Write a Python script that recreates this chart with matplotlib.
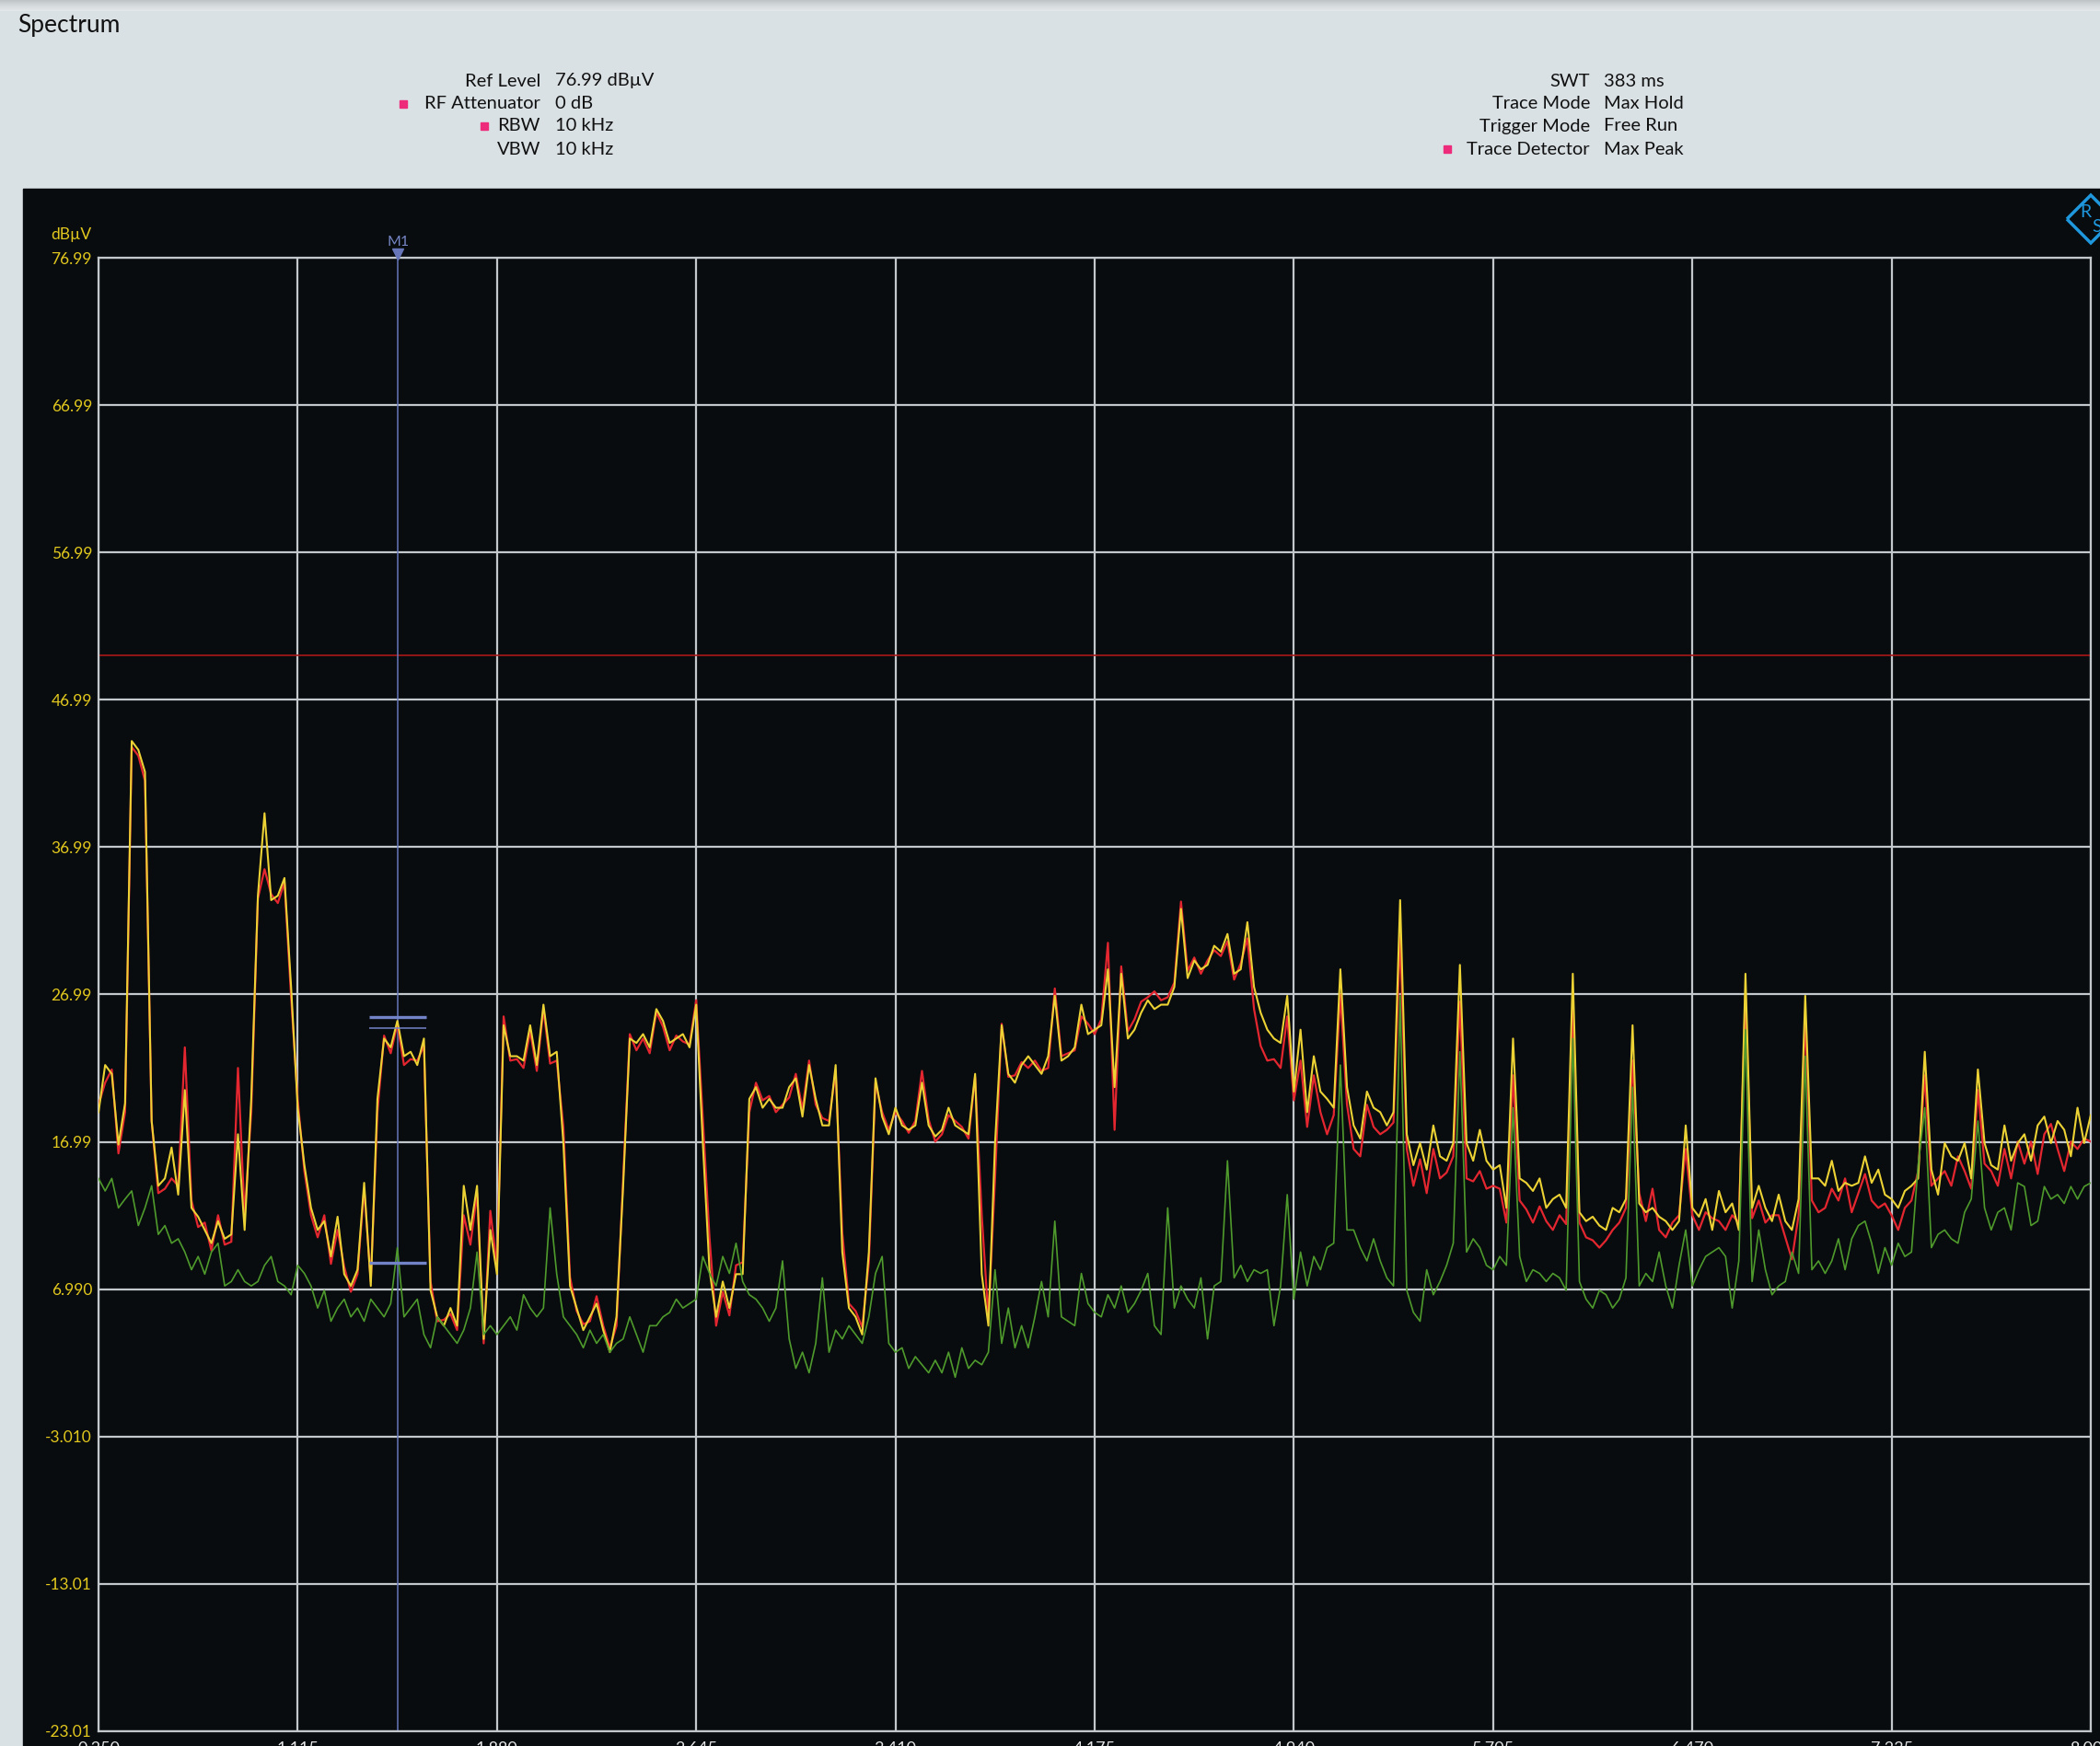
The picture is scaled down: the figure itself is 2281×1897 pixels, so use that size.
import numpy as np
import matplotlib.pyplot as plt
from matplotlib.patches import Rectangle, Polygon

plt.rcParams['font.family'] = ['Lato', 'DejaVu Sans']

# sweep 0.350 - 8.000 MHz at 30 points per grid division
freq_mhz = np.linspace(0.35, 8.0, 301)

# trace 1 (yellow), dBuV
trace1_yellow = [
    19.0, 22.2, 21.6, 16.8, 19.6, 44.2, 43.6, 42.1, 18.4, 14.0, 14.5, 16.6, 13.4, 20.5, 12.5, 11.9, 11.0, 10.1, 11.6, 10.4, 10.7, 17.5, 11.0, 19.9, 33.7, 39.3, 33.4, 33.7, 34.9, 27.5,
    19.3, 15.4, 12.5, 11.0, 11.6, 9.2, 11.9, 8.0, 7.2, 8.3, 14.2, 7.2, 19.9, 24.0, 23.4, 25.2, 22.8, 23.1, 22.2, 24.0, 6.9, 5.1, 4.5, 5.7, 4.5, 14.0, 11.0, 14.0, 3.6, 11.0,
    8.0, 24.9, 22.8, 22.8, 22.5, 24.9, 22.2, 26.3, 22.8, 23.1, 16.9, 7.2, 5.7, 4.2, 5.1, 6.0, 4.2, 2.7, 5.1, 14.0, 24.0, 23.7, 24.3, 23.4, 26.0, 25.2, 23.7, 24.0, 24.3, 23.4,
    26.3, 16.9, 8.3, 5.1, 7.5, 5.7, 8.0, 8.0, 19.9, 20.7, 19.3, 19.9, 19.3, 19.3, 20.7, 21.3, 18.7, 22.2, 19.9, 18.1, 18.1, 22.2, 9.5, 5.7, 5.1, 3.9, 9.5, 21.3, 18.7, 17.5,
    19.3, 18.1, 17.8, 18.1, 21.0, 18.1, 17.35, 17.8, 19.3, 18.1, 17.8, 17.5, 21.6, 8.0, 4.5, 16.9, 24.9, 21.6, 21.0, 22.2, 22.8, 22.2, 21.6, 22.8, 26.9, 22.5, 22.8, 23.4, 26.3, 24.3,
    24.6, 24.9, 28.7, 20.7, 28.4, 24.0, 24.6, 25.75, 26.6, 26.0, 26.3, 26.3, 27.5, 32.8, 28.1, 29.3, 28.7, 29.0, 30.3, 29.9, 31.1, 28.4, 28.7, 31.9, 27.5, 25.75, 24.6, 24.0, 23.7, 26.9,
    20.4, 24.6, 19.0, 22.8, 20.4, 19.9, 19.3, 28.7, 20.7, 18.1, 17.2, 20.4, 19.3, 19.0, 18.1, 19.0, 33.4, 17.5, 15.4, 16.9, 15.1, 18.1, 16.0, 15.7, 16.9, 29.0, 16.9, 15.7, 17.8, 15.7,
    15.1, 15.4, 12.5, 24.0, 14.5, 14.2, 13.65, 14.5, 12.5, 13.1, 13.4, 12.5, 28.4, 12.2, 11.6, 11.9, 11.3, 11.0, 12.5, 12.2, 13.1, 24.9, 12.8, 12.2, 12.5, 11.9, 11.6, 11.0, 11.6, 18.1,
    12.5, 11.9, 13.1, 11.0, 13.65, 12.2, 12.8, 11.0, 28.4, 12.5, 14.0, 12.5, 11.6, 13.4, 11.6, 11.0, 13.1, 26.9, 14.5, 14.5, 14.0, 15.7, 13.65, 14.2, 14.0, 14.2, 16.0, 14.2, 15.1, 13.4,
    13.1, 12.5, 13.65, 14.0, 14.5, 23.1, 15.1, 13.4, 16.9, 16.0, 15.7, 16.9, 14.5, 21.9, 16.9, 15.4, 15.1, 18.1, 15.7, 16.9, 17.5, 15.7, 18.1, 18.7, 16.9, 18.4, 17.8, 16.0, 19.3, 16.9,
    18.8,
]

# trace 2 (red), dBuV
trace2_red = [
    19.5, 21.0, 21.9, 16.2, 19.0, 43.8, 43.2, 41.5, 18.4, 13.5, 13.8, 14.5, 14.0, 23.4, 13.0, 11.2, 11.5, 9.6, 12.0, 10.0, 10.2, 22.0, 12.0, 19.0, 33.5, 35.5, 33.8, 33.2, 34.6, 26.8,
    19.8, 15.0, 12.0, 10.5, 12.0, 8.7, 11.0, 8.5, 6.8, 8.0, 13.8, 7.5, 19.0, 24.2, 23.0, 25.0, 22.2, 22.6, 22.5, 23.5, 7.5, 4.8, 4.9, 5.3, 4.2, 12.0, 10.0, 13.5, 3.3, 12.3,
    8.5, 25.5, 22.5, 22.6, 22.0, 24.5, 21.8, 26.0, 22.3, 22.5, 18.0, 7.8, 5.5, 4.6, 4.8, 6.5, 4.5, 3.0, 4.5, 14.5, 24.3, 23.2, 24.0, 23.0, 25.8, 24.8, 23.2, 24.2, 23.8, 23.6,
    26.6, 18.5, 10.5, 4.5, 6.8, 5.2, 8.6, 8.8, 19.0, 21.0, 19.8, 20.1, 19.0, 19.5, 20.0, 21.6, 19.2, 22.5, 19.5, 18.6, 18.4, 21.8, 10.8, 6.0, 5.5, 4.4, 8.8, 21.0, 19.0, 17.8,
    19.0, 18.4, 17.6, 18.4, 21.8, 18.5, 17.0, 17.5, 18.8, 18.4, 18.0, 17.2, 21.4, 12.0, 5.0, 14.5, 25.0, 21.4, 21.5, 22.4, 22.0, 22.5, 21.8, 22.0, 27.4, 22.8, 23.0, 23.2, 25.5, 25.0,
    24.3, 25.3, 30.5, 17.8, 28.9, 24.5, 25.3, 26.5, 26.8, 27.2, 26.6, 26.8, 27.8, 33.3, 28.6, 29.5, 28.4, 29.3, 30.0, 29.6, 30.6, 28.0, 29.1, 30.8, 26.0, 23.5, 22.5, 22.6, 22.0, 25.5,
    19.8, 22.5, 18.0, 21.5, 19.0, 17.5, 18.8, 27.0, 19.5, 16.5, 16.0, 19.5, 18.0, 17.5, 17.8, 18.3, 31.0, 16.5, 14.0, 15.8, 13.5, 16.5, 14.5, 14.9, 16.0, 26.5, 14.5, 14.3, 15.0, 13.8,
    14.0, 13.8, 11.5, 21.5, 13.0, 12.4, 11.5, 12.6, 11.6, 11.0, 12.0, 11.4, 26.0, 11.5, 10.5, 10.3, 9.8, 10.3, 11.0, 11.5, 12.5, 22.5, 13.5, 11.6, 13.8, 11.0, 10.5, 11.5, 12.0, 16.5,
    12.0, 11.0, 12.2, 11.8, 11.6, 11.0, 12.0, 11.5, 27.0, 11.8, 13.0, 11.5, 12.0, 12.0, 10.5, 9.0, 12.0, 25.5, 13.0, 12.2, 12.5, 13.8, 13.0, 14.5, 12.2, 13.5, 14.8, 13.0, 12.5, 12.8,
    12.0, 11.0, 12.5, 13.0, 15.0, 21.5, 14.0, 14.5, 15.0, 14.0, 16.0, 15.0, 13.8, 20.5, 15.5, 15.0, 14.0, 16.5, 14.5, 17.0, 15.5, 17.0, 14.8, 17.5, 18.2, 16.5, 15.0, 17.0, 16.5, 17.2,
    17.0,
]

# trace 3 (green), dBuV
trace3_green = [
    14.5, 13.65, 14.5, 12.5, 13.1, 13.65, 11.3, 12.5, 14.0, 10.7, 11.3, 10.1, 10.4, 9.5, 8.3, 9.2, 8.0, 9.5, 10.1, 7.2, 7.5, 8.3, 7.5, 7.2, 7.5, 8.6, 9.2, 7.5, 7.2, 6.6,
    8.6, 8.05, 7.2, 5.7, 6.9, 4.8, 5.7, 6.3, 5.1, 5.7, 4.8, 6.3, 5.7, 5.1, 6.0, 9.8, 5.1, 5.7, 6.3, 3.9, 3.0, 5.1, 4.5, 3.9, 3.3, 4.2, 5.7, 9.5, 3.9, 4.5,
    3.9, 4.5, 5.1, 4.2, 6.6, 5.7, 5.1, 5.7, 12.5, 8.0, 5.1, 4.5, 3.9, 3.0, 4.2, 3.3, 3.9, 2.7, 3.3, 3.6, 5.1, 3.9, 2.7, 4.5, 4.5, 5.1, 5.4, 6.3, 5.7, 6.0,
    6.3, 9.2, 8.05, 7.2, 9.2, 8.05, 10.1, 7.5, 6.6, 6.3, 5.7, 4.8, 5.7, 8.9, 3.6, 1.6, 2.7, 1.3, 3.3, 7.75, 2.7, 4.2, 3.6, 4.5, 3.9, 3.3, 5.1, 8.05, 9.2, 3.3,
    2.7, 3.0, 1.6, 2.4, 1.85, 1.3, 2.15, 1.3, 2.7, 1.0, 3.0, 1.6, 2.15, 1.85, 2.7, 8.3, 3.3, 5.7, 3.0, 4.5, 3.0, 5.1, 7.5, 5.1, 11.6, 5.1, 4.8, 4.5, 8.05, 6.0,
    5.4, 5.1, 6.6, 5.7, 7.2, 5.4, 6.0, 6.9, 8.05, 4.5, 3.9, 12.5, 5.7, 7.2, 6.3, 5.7, 7.75, 3.6, 7.2, 7.5, 15.7, 7.75, 8.6, 7.5, 8.3, 8.05, 8.3, 4.5, 7.2, 13.4,
    6.3, 9.5, 7.2, 9.2, 8.3, 9.8, 10.1, 22.2, 11.0, 11.0, 9.8, 8.9, 10.4, 8.9, 7.75, 7.2, 26.9, 6.9, 5.4, 4.8, 8.3, 6.6, 7.5, 8.6, 10.1, 23.1, 9.5, 10.4, 9.8, 8.6,
    8.3, 9.2, 8.6, 19.3, 9.2, 7.5, 8.3, 8.05, 7.5, 8.05, 7.75, 6.9, 24.0, 7.5, 6.3, 5.7, 6.9, 6.6, 5.7, 6.3, 7.75, 20.7, 7.2, 8.05, 7.5, 9.5, 7.2, 5.7, 8.6, 11.0,
    7.2, 8.3, 9.2, 9.5, 9.8, 9.2, 5.7, 8.9, 24.6, 7.5, 11.0, 8.3, 6.6, 7.2, 7.5, 9.5, 8.05, 22.8, 8.3, 8.9, 8.05, 8.9, 10.4, 8.3, 10.4, 11.3, 11.6, 10.1, 8.05, 9.8,
    8.6, 10.1, 9.2, 9.5, 15.4, 19.3, 9.8, 10.7, 11.0, 10.4, 10.1, 12.2, 13.1, 18.4, 12.5, 11.0, 12.2, 12.5, 11.0, 14.2, 13.95, 11.3, 11.6, 13.95, 13.1, 13.4, 12.8, 13.95, 13.1, 13.95,
    14.2,
]

ytick_vals = [76.99, 66.99, 56.99, 46.99, 36.99, 26.99, 16.99, 6.99, -3.01, -13.01, -23.01]
ytick_labels = ['76.99', '66.99', '56.99', '46.99', '36.99', '26.99', '16.99', '6.990',
                '-3.010', '-13.01', '-23.01']
xtick_vals = [0.350, 1.115, 1.880, 2.645, 3.410, 4.175, 4.940, 5.705, 6.470, 7.235, 8.000]
xtick_labels = ['0.350', '1.115', '1.880', '2.645', '3.410', '4.175', '4.940', '5.705',
                '6.470', '7.235', '8.000']

limit_dbuv = 50.0
marker_mhz = 1.5
search_span = (1.389, 1.607)
search_levels = [25.45, 8.8]
search_level_thin = 24.7

header_left = [('Ref Level', '76.99 dB\u00b5V'), ('RF Attenuator', '0 dB'),
               ('RBW', '10 kHz'), ('VBW', '10 kHz')]
header_right = [('SWT', '383 ms'), ('Trace Mode', 'Max Hold'),
                ('Trigger Mode', 'Free Run'), ('Trace Detector', 'Max Peak')]

W, H = 2281, 1897
bg_col = '#dae1e5'
panel_col = '#080c0e'
grid_col = '#c3c8cd'
pink = '#ee2a7b'

fig = plt.figure(figsize=(W / 100, H / 100), dpi=100, facecolor=bg_col)

# pixel-space layer for the instrument frame
bg = fig.add_axes([0, 0, 1, 1], zorder=0)
bg.set_xlim(0, W)
bg.set_ylim(H, 0)
bg.axis('off')
shade = np.linspace(0, 1, 12).reshape(-1, 1)
bg.imshow(shade, extent=(0, W, 12, 0), cmap='Greys_r', vmin=-1.2, vmax=1.3, aspect='auto', alpha=0.35)
bg.add_patch(Rectangle((25, 205), W - 25, H - 205, color=panel_col))
bg.text(19, 28, 'Spectrum', fontsize=19, color='#111111', va='center', ha='left')

row_y = [88, 113, 137, 162]
for (lab, val), y in zip(header_left, row_y):
    bg.text(587, y, lab, fontsize=14.5, ha='right', va='center', color='#111111')
    bg.text(603, y, val, fontsize=14.5, ha='left', va='center', color='#111111')
for (lab, val), y in zip(header_right, row_y):
    bg.text(1727, y, lab, fontsize=14.5, ha='right', va='center', color='#111111')
    bg.text(1742, y, val, fontsize=14.5, ha='left', va='center', color='#111111')
# flags in front of RF Attenuator, RBW and Trace Detector
for sx, sy in [(434, 109), (522, 133), (1568, 158)]:
    bg.add_patch(Rectangle((sx, sy), 8, 8, color=pink))

# R&S logo, cut at the right edge
bg.add_patch(Polygon([(2245, 238), (2271, 212), (2297, 238), (2271, 264)], closed=True,
                     fill=False, edgecolor='#1f97dd', lw=2.5))
bg.text(2265, 231, 'R', fontsize=14, color='#1f97dd', ha='center', va='center')
bg.text(2278, 247, 'S', fontsize=14, color='#1f97dd', ha='center', va='center')

# the trace diagram
ax = fig.add_axes([107 / W, 1 - 1880.5 / H, (2271 - 107) / W, 1600 / H], zorder=1)
ax.set_facecolor(panel_col)
ax.set_xlim(0.35, 8.0)
ax.set_ylim(-23.01, 76.99)
ax.set_xticks(xtick_vals)
ax.set_xticklabels(xtick_labels, color='#e6e6e6', fontsize=13)
ax.set_yticks(ytick_vals)
ax.set_yticklabels(ytick_labels, color='#e2c81e', fontsize=12.5)
ax.tick_params(axis='y', length=0, pad=5)
ax.tick_params(axis='x', length=0, pad=8)
ax.grid(True, color=grid_col, lw=1.6)
for s in ax.spines.values():
    s.set_color(grid_col)
    s.set_linewidth(1.6)
ax.set_axisbelow(True)

ax.axhline(limit_dbuv, color='#a81818', lw=1.2, zorder=2)
ax.plot(freq_mhz, trace2_red, color='#e3262f', lw=1.6, zorder=3)
ax.plot(freq_mhz, trace1_yellow, color='#ecd234', lw=1.5, zorder=4)
ax.plot(freq_mhz, trace3_green, color='#4f9a2c', lw=1.2, zorder=5)

mk_col = '#6676b8'
ax.axvline(marker_mhz, color=mk_col, lw=1.1, zorder=2)
ax.hlines(search_levels, search_span[0], search_span[1], color='#7383c8', lw=2.4, zorder=6)
ax.hlines(search_level_thin, search_span[0], search_span[1], color='#7383c8', lw=1.1, zorder=6)
ax.plot([marker_mhz], [76.99 + 0.3], marker='v', ms=8, color=mk_col, clip_on=False, zorder=7)
ax.annotate('M1', xy=(marker_mhz, 1), xycoords=('data', 'axes fraction'), xytext=(0, 17),
            textcoords='offset pixels', ha='center', va='center', fontsize=11.5, color='#7484c4')
ax.annotate('dB\u00b5V', xy=(0, 1), xycoords='axes fraction', xytext=(-8, 25),
            textcoords='offset pixels', ha='right', va='center', fontsize=12.5, color='#e2c81e')

fig.savefig('out.png', dpi=100, facecolor=bg_col)
